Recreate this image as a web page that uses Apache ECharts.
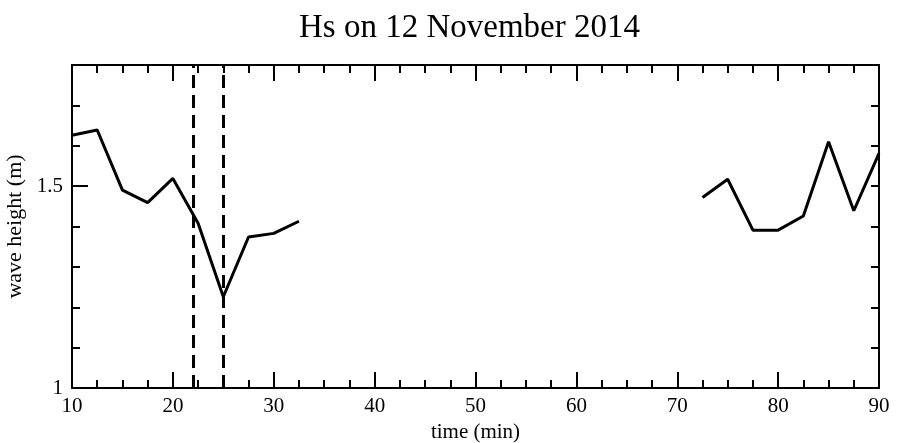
<!DOCTYPE html>
<html>
<head>
<meta charset="utf-8">
<script src="https://cdn.jsdelivr.net/npm/echarts@6/dist/echarts.min.js"></script>
<style>
html,body{margin:0;padding:0;background:#fff;}
#c{width:898px;height:443px;}
</style>
</head>
<body>
<div id="c"></div>
<script>
const titleText = 'Hs on 12 November 2014';
const xAxisName = 'time (min)';
const yAxisName = 'wave height (m)';
const times1 = [10, 12.5, 15, 17.5, 20, 22.5, 25, 27.5, 30, 32.5];
const hs1 = [1.626, 1.639, 1.490, 1.459, 1.519, 1.408, 1.226, 1.374, 1.383, 1.413];
const times2 = [72.5, 75, 77.5, 80, 82.5, 85, 87.5, 90];
const hs2 = [1.472, 1.517, 1.391, 1.391, 1.426, 1.610, 1.439, 1.581];
const dashedTimes = [22, 25];
const yLabelValues = [1, 1.5];

const FONT = '"Liberation Serif", "DejaVu Serif", serif';
const chart = echarts.init(document.getElementById('c'));
const pair = (xs, ys) => xs.map((x, i) => [x, ys[i]]);

const baseX = {
  type: 'value', min: 10, max: 90, interval: 10,
  axisLine: {show: true, lineStyle: {color: '#000', width: 2}},
  splitLine: {show: false},
  axisTick: {show: true, inside: true, length: 16, lineStyle: {color: '#000', width: 2}},
  minorTick: {show: true, splitNumber: 4, length: 8, lineStyle: {color: '#000', width: 2}},
  minorSplitLine: {show: false}
};
const baseY = {
  type: 'value', min: 1, max: 1.8, interval: 0.1,
  axisLine: {show: true, lineStyle: {color: '#000', width: 2}},
  splitLine: {show: false},
  axisTick: {show: true, inside: true, length: 8, lineStyle: {color: '#000', width: 2}}
};

chart.setOption({
  animation: false,
  backgroundColor: '#fff',
  title: {
    text: titleText, left: 294, top: 7,
    textStyle: {fontFamily: FONT, fontSize: 33, fontWeight: 'normal', color: '#000'}
  },
  grid: {left: 72, right: 19, top: 65, bottom: 55, outerBoundsMode: 'none', containLabel: false},
  xAxis: [
    Object.assign({}, baseX, {
      position: 'bottom',
      name: xAxisName, nameLocation: 'middle', nameGap: 34,
      nameTextStyle: {fontFamily: FONT, fontSize: 21, color: '#000'},
      axisLabel: {show: true, margin: 8, fontFamily: FONT, fontSize: 21, color: '#000'}
    }),
    Object.assign({}, baseX, {position: 'top', axisLabel: {show: false}})
  ],
  yAxis: [
    Object.assign({}, baseY, {
      position: 'left',
      name: yAxisName, nameLocation: 'middle', nameGap: 41,
      nameTextStyle: {fontFamily: FONT, fontSize: 22, color: '#000'},
      axisLabel: {
        show: true, margin: 9, fontFamily: FONT, fontSize: 21, color: '#000',
        formatter: v => {
          const r = Math.round(v * 10) / 10;
          return yLabelValues.indexOf(r) >= 0 ? String(r) : '';
        }
      }
    }),
    Object.assign({}, baseY, {position: 'right', axisLabel: {show: false}}),
    {
      type: 'value', min: 1, max: 1.8, interval: 0.5, position: 'left',
      axisLine: {show: false}, splitLine: {show: false}, axisLabel: {show: false},
      axisTick: {show: true, inside: true, length: 16, lineStyle: {color: '#000', width: 2}}
    }
  ],
  series: [
    {
      type: 'line', data: pair(times1, hs1), showSymbol: false, symbol: 'none',
      lineStyle: {color: '#000', width: 3}, z: 3,
      markLine: {
        silent: true, symbol: ['none', 'none'], label: {show: false},
        lineStyle: {color: '#000', width: 3, type: [13, 7]},
        data: dashedTimes.map(t => ({xAxis: t}))
      }
    },
    {
      type: 'line', data: pair(times2, hs2), showSymbol: false, symbol: 'none',
      lineStyle: {color: '#000', width: 3}, z: 3
    }
  ]
});
</script>
</body>
</html>
